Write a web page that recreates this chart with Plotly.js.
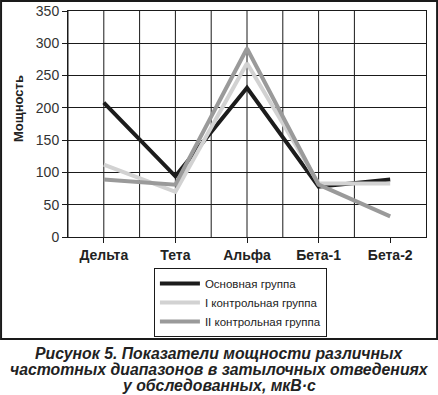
<!DOCTYPE html>
<html>
<head>
<meta charset="utf-8">
<script src="https://cdn.plot.ly/plotly-3.0.1.min.js"></script>
<style>html,body{margin:0;padding:0;background:#fff;}#chart{width:438px;height:395px;}</style>
</head>
<body>
<div id="chart"></div>
<script>
const categories = ['Дельта', 'Тета', 'Альфа', 'Бета-1', 'Бета-2'];
const mainGroup = [208, 94, 231, 78, 89];
const control1 = [112, 70, 269, 83, 83];
const control2 = [89, 81, 292, 81, 32];
const seriesNames = ['Основная группа', 'I контрольная группа', 'II контрольная группа'];
const yTicks = [0, 50, 100, 150, 200, 250, 300, 350];
const captionLines = [
  'Рисунок 5. Показатели мощности различных',
  'частотных диапазонов в затылочных отведениях',
  'у обследованных, мкВ·с'
];

const xIdx = categories.map((c, i) => i);
const colors = ['#1c1c1c', '#d2d2d2', '#9a9a9a'];
const allSeries = [mainGroup, control1, control2];

const traces = allSeries.map((vals, k) => ({
  x: xIdx, y: vals, type: 'scatter', mode: 'lines', name: seriesNames[k],
  line: {color: colors[k], width: 4}
}));

// vertical gridlines: category centres and half-way boundaries (none at last category)
const shapes = [];
for (let v = -0.5; v <= categories.length - 1.5 + 1e-9; v += 0.5) {
  shapes.push({type: 'line', xref: 'x', yref: 'paper', x0: v, x1: v, y0: 0, y1: 1,
    line: {color: '#1a1a1a', width: 1}, layer: 'below'});
}
// outer frame
shapes.push({type: 'rect', xref: 'paper', yref: 'paper',
  x0: -0.187, x1: 1.031, y0: -0.451, y1: 1.044,
  line: {color: '#1a1a1a', width: 2}});

const annotations = captionLines.map((t, i) => ({
  xref: 'paper', yref: 'paper', x: 0.422, y: (237 - (353 + 16 * i)) / 226,
  xanchor: 'center', yanchor: 'middle', showarrow: false,
  text: '<b><i>' + t + '</i></b>',
  font: {size: 15.8, color: '#222'}
}));
annotations.push({
  xref: 'paper', yref: 'paper', x: (18 - 68) / 358, y: (237 - 109) / 226,
  xanchor: 'center', yanchor: 'middle', showarrow: false, textangle: -90,
  text: '<b>Мощность</b>', font: {size: 13, color: '#222'}
});

const layout = {
  width: 438, height: 395,
  margin: {l: 68, r: 12, t: 11, b: 158},
  paper_bgcolor: '#fff', plot_bgcolor: '#fff',
  showlegend: true,
  font: {family: 'Liberation Sans, Arial, sans-serif', color: '#222'},
  xaxis: {
    range: [-0.5, categories.length - 0.5],
    tickvals: xIdx, ticktext: categories,
    showgrid: false, zeroline: false,
    showline: true, linecolor: '#1a1a1a', linewidth: 1, mirror: true,
    ticks: 'outside', ticklen: 5, tickcolor: '#1a1a1a',
    tickfont: {size: 14, color: '#222', family: 'Liberation Sans, Arial, sans-serif', weight: 'bold'}
  },
  yaxis: {
    range: [0, 350], tickvals: yTicks,
    showgrid: true, gridcolor: '#1a1a1a', gridwidth: 1, zeroline: false,
    showline: true, linecolor: '#1a1a1a', linewidth: 1, mirror: true,
    ticks: 'outside', ticklen: 5, tickcolor: '#1a1a1a',
    tickfont: {size: 14, color: '#333'}
  },
  legend: {
    x: 0.24, y: -0.137, xanchor: 'left', yanchor: 'top',
    bordercolor: '#1a1a1a', borderwidth: 1, bgcolor: '#fff',
    font: {size: 11.5, color: '#222'}, itemwidth: 40, tracegroupgap: 0,
    entrywidth: 218, entrywidthmode: 'pixels'
  },
  shapes: shapes,
  annotations: annotations
};

Plotly.newPlot('chart', traces, layout, {displayModeBar: false, staticPlot: true});
</script>
</body>
</html>
